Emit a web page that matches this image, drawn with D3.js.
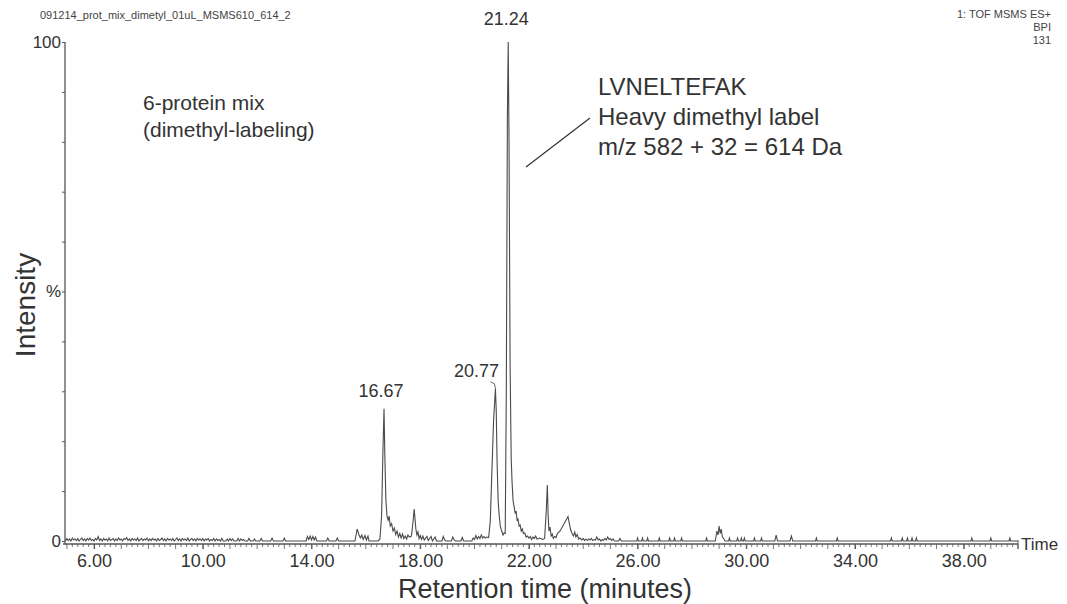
<!DOCTYPE html>
<html>
<head>
<meta charset="utf-8">
<script src="https://cdn.jsdelivr.net/npm/d3@7"></script>
<style>
  html, body { margin: 0; padding: 0; background: #fff; }
  svg { display: block; font-family: "Liberation Sans", Arial, sans-serif; }
</style>
</head>
<body>
<svg id="chart" width="1067" height="604"></svg>
<script>
// Base peak intensity chromatogram: [retention time (min), intensity (% of base peak)]
const trace = [
  [4.95,0],[5.00,0.5],[5.05,0.1],[5.10,0.4],[5.15,0],[5.20,0.6],[5.25,0.2],[5.30,0.4],[5.35,0.1],[5.40,0.5],
  [5.45,0],[5.50,0.3],[5.55,0.6],[5.60,0.1],[5.65,0.4],[5.70,0],[5.75,0.5],[5.80,0.2],[5.85,0.6],[5.90,0.1],
  [5.95,0.3],[6.00,0],[6.05,0.5],[6.10,0.2],[6.15,0.9],[6.20,0.1],[6.25,0.4],[6.30,0],[6.35,0.5],[6.40,0.2],
  [6.45,0.4],[6.50,0],[6.55,0.6],[6.60,0.1],[6.65,0.3],[6.70,0.5],[6.75,0],[6.80,0.4],[6.85,0.1],[6.90,0.6],
  [6.95,0.2],[7.00,0.4],[7.05,0],[7.10,0.5],[7.15,0.3],[7.20,0.7],[7.25,0.1],[7.30,0.4],[7.35,0],[7.40,0.5],
  [7.45,0.2],[7.50,0.4],[7.55,0.1],[7.60,0.6],[7.65,0],[7.70,0.3],[7.75,0.5],[7.80,0.1],[7.85,0.4],[7.90,0.2],
  [7.95,0.6],[8.00,0],[8.05,0.4],[8.10,0.1],[8.15,0.5],[8.20,0.2],[8.25,0.4],[8.30,0],[8.35,0.5],[8.40,0.1],
  [8.45,0.3],[8.50,0.6],[8.55,0.1],[8.60,0.4],[8.65,0],[8.70,0.5],[8.75,0.2],[8.80,0.4],[8.85,0.1],[8.90,0.5],
  [8.95,0],[9.00,0.3],[9.05,0.6],[9.10,0.1],[9.15,0.4],[9.20,0],[9.25,0.5],[9.30,0.2],[9.35,0.4],[9.40,0.1],
  [9.45,0.6],[9.50,0],[9.55,0.3],[9.60,0.5],[9.65,0.1],[9.70,0.4],[9.75,0],[9.80,0.5],[9.85,0.2],[9.90,0.4],
  [9.95,0.1],[10.00,0.5],[10.05,0],[10.10,0.4],[10.15,0.2],[10.20,0.5],[10.25,0],[10.30,0.3],[10.35,0.1],[10.40,0.5],
  [10.45,0],[10.50,0.4],[10.55,0.1],[10.60,0.3],[10.65,0],[10.70,0.5],[10.75,0],[10.85,0],[10.90,0.4],[10.95,0],
  [11.00,0.5],[11.05,0.1],[11.10,0.4],[11.15,0],[11.25,0],[11.30,0.5],[11.35,0],[11.40,0.4],[11.45,0.1],[11.50,0.3],
  [11.55,0],[11.65,0],[11.70,0.5],[11.75,0],[11.85,0],[11.90,0.4],[11.95,0],[12.10,0],[12.15,0.5],[12.20,0],
  [12.50,0],[12.55,0.6],[12.60,0],[12.95,0],[13.00,0.6],[13.05,0],[13.80,0],[13.85,0.9],[13.90,0.3],[13.95,1.0],
  [14.00,0.2],[14.05,0.9],[14.10,0.2],[14.15,0.8],[14.20,0],[14.55,0],[14.60,0.6],[14.65,0],[14.90,0],[14.95,0.6],
  [15.00,0],[15.60,0],[15.68,2.4],[15.75,1.2],[15.80,0.6],[15.85,1.2],[15.90,0.3],[15.97,1.1],[16.02,0.2],[16.08,1.0],
  [16.12,0],[16.45,0],[16.52,0.4],[16.58,5],[16.63,18],[16.67,26.5],[16.70,17],[16.74,8],[16.78,5],[16.82,4.2],
  [16.86,5],[16.90,3],[16.95,3.5],[17.00,2],[17.05,2.6],[17.10,1.3],[17.15,2],[17.20,0.8],[17.25,1.5],[17.30,0.6],
  [17.35,1.4],[17.40,0.5],[17.45,1.0],[17.50,0.4],[17.55,1.2],[17.60,0.8],[17.68,1],[17.74,4],[17.78,6.4],[17.81,4.5],
  [17.84,2.5],[17.88,1.2],[17.92,1.8],[17.96,0.5],[18.00,1.1],[18.05,0.3],[18.10,1.0],[18.15,0.2],[18.25,0.9],[18.30,0.1],
  [18.40,0.9],[18.45,0],[18.55,0.8],[18.60,0],[18.80,0],[18.85,0.9],[18.90,0.2],[18.95,0],[19.15,0],[19.20,0.8],
  [19.25,0.2],[19.30,0],[19.50,0],[19.55,0.7],[19.60,0],[19.90,0],[19.95,0.6],[20.00,0.3],[20.05,1.1],[20.10,0.4],
  [20.15,0.9],[20.20,0.5],[20.25,1.2],[20.30,0.6],[20.35,0.9],[20.40,0.6],[20.45,0.8],[20.52,0.7],[20.58,4],[20.64,14],
  [20.70,24],[20.77,30.5],[20.80,26],[20.83,16],[20.87,8],[20.91,5],[20.95,3],[21.00,2],[21.05,1.2],[21.09,1.6],
  [21.13,1.5],[21.17,30],[21.21,85],[21.24,100],[21.27,80],[21.31,35],[21.35,16.5],[21.38,12],[21.42,8],[21.46,6.8],
  [21.50,5.5],[21.53,6],[21.57,4],[21.60,4.5],[21.64,3],[21.68,3.2],[21.72,2],[21.76,2.4],[21.80,1.5],[21.85,1.6],
  [21.90,0.8],[21.95,1.0],[22.00,0.6],[22.05,0.9],[22.10,0.3],[22.15,0.8],[22.20,0.5],[22.25,1.0],[22.30,0.4],[22.40,0.6],
  [22.50,0.3],[22.58,0.5],[22.64,6],[22.68,11.2],[22.71,5],[22.74,2],[22.78,2.8],[22.82,1],[22.86,1.4],[22.90,0.5],
  [22.95,0.9],[23.00,0.7],[23.05,1.5],[23.15,2],[23.25,3],[23.35,4],[23.44,4.9],[23.49,3.5],[23.54,2.2],[23.59,1.5],
  [23.64,1.0],[23.69,1.8],[23.73,0.8],[23.78,1.3],[23.83,0.4],[23.88,0.6],[23.95,0.2],[24.00,0.5],[24.05,0.1],[24.10,0.4],
  [24.15,0.1],[24.20,0.4],[24.25,0.2],[24.30,0.5],[24.35,0.1],[24.40,0.3],[24.45,0.2],[24.50,0.8],[24.55,0.2],[24.60,0.4],
  [24.65,0],[24.70,0.3],[24.75,0.1],[24.80,0.5],[24.85,0.2],[24.90,0.8],[24.95,0.3],[25.00,0.5],[25.05,0.1],[25.10,0.4],
  [25.15,0],[25.30,0],[25.35,0.5],[25.40,0],[25.97,0],[26.00,0.6],[26.03,0],[26.15,0],[26.18,0.6],[26.21,0],
  [26.34,0],[26.37,0.6],[26.40,0],[26.77,0],[26.80,0.6],[26.83,0],[27.15,0],[27.18,0.6],[27.21,0],[27.33,0],
  [27.36,0.6],[27.39,0],[27.59,0],[27.62,0.6],[27.65,0],[28.51,0],[28.54,0.6],[28.57,0],[28.86,0],[28.92,2],
  [28.96,1.2],[29.00,3],[29.04,1.5],[29.08,2.4],[29.12,0.8],[29.17,0.5],[29.22,0],[29.35,0],[29.38,0.6],[29.41,0],
  [29.65,0],[29.68,0.6],[29.71,0],[29.79,0],[29.82,0.6],[29.85,0],[29.90,0],[29.93,0.6],[29.96,0],[30.27,0],
  [30.30,0.6],[30.33,0],[30.53,0],[30.56,0.6],[30.59,0],[31.05,0],[31.10,1.2],[31.15,0],[31.61,0],[31.66,1.0],
  [31.71,0],[32.55,0],[32.58,0.6],[32.61,0],[33.32,0],[33.35,0.6],[33.38,0],[35.31,0],[35.34,0.6],[35.37,0],
  [35.71,0],[35.74,0.6],[35.77,0],[35.90,0],[35.93,0.6],[35.96,0],[36.07,0],[36.10,0.6],[36.13,0],[36.23,0],
  [36.26,0.6],[36.29,0],[38.27,0],[38.30,0.6],[38.33,0],[38.97,0],[39.00,0.6],[39.03,0],[39.67,0],[39.70,0.6],
  [39.73,0],[40.00,0]
];

// Labelled peaks: retention time (min) and intensity (%)
const peakTimes = [16.67, 20.77, 21.24];
const peakIntensities = [26.5, 30.5, 100];

// Axis ticks
const xTickValues = [6, 10, 14, 18, 22, 26, 30, 34, 38];
const yTickValues = [0, 10, 20, 30, 40, 50, 60, 70, 80, 90, 100];
const yTickText = { 0: "0", 50: "%", 100: "100" };

// Text blocks
const headerLeft = "091214_prot_mix_dimetyl_01uL_MSMS610_614_2";
const headerRight = ["1: TOF MSMS ES+", "BPI", "131"];
const sampleNote = ["6-protein mix", "(dimethyl-labeling)"];
const peptideNote = ["LVNELTEFAK", "Heavy dimethyl label", "m/z 582 + 32 = 614 Da"];

const ink = "#333";
const axisInk = "#555";

const svg = d3.select("#chart");

const x = d3.scaleLinear().domain([4.93, 40.0]).range([65, 1018]);
const y = d3.scaleLinear().domain([0, 100]).range([541, 42]);
const axisY = 544;

// Header
svg.append("text").attr("x", 40).attr("y", 19)
  .attr("font-size", 11).attr("fill", "#444").text(headerLeft);
svg.append("g").selectAll("text").data(headerRight).join("text")
  .attr("x", 1051).attr("y", (d, i) => 18 + i * 13)
  .attr("text-anchor", "end").attr("font-size", 11).attr("fill", "#444")
  .text(d => d);

// Y axis
const yAxis = d3.axisLeft(y).tickValues(yTickValues).tickSize(3)
  .tickFormat(d => yTickText[d] || "");
const gy = svg.append("g").attr("transform", "translate(65,0)").call(yAxis);
gy.select(".domain").remove();
gy.selectAll(".tick line").attr("stroke", axisInk);
gy.selectAll(".tick text").attr("font-size", 17).attr("fill", ink)
  .attr("font-family", "Liberation Sans, Arial, sans-serif").attr("x", -4);
svg.append("line").attr("x1", 65).attr("x2", 65).attr("y1", y(100)).attr("y2", axisY)
  .attr("stroke", axisInk).attr("stroke-width", 1.3);

// X axis: minor ticks every 0.2 min, longer ones each minute
const minorTicks = d3.range(5.0, 40.01, 0.2).map(v => +v.toFixed(1));
svg.append("g").selectAll("line").data(minorTicks).join("line")
  .attr("x1", d => x(d)).attr("x2", d => x(d))
  .attr("y1", axisY).attr("y2", d => axisY + (Math.abs(d - Math.round(d)) < 1e-6 ? 5 : 3))
  .attr("stroke", axisInk).attr("stroke-width", 0.8);
const xAxis = d3.axisBottom(x).tickValues(xTickValues).tickSize(5)
  .tickFormat(d => d.toFixed(2));
const gx = svg.append("g").attr("transform", `translate(0,${axisY})`).call(xAxis);
gx.select(".domain").remove();
gx.selectAll(".tick line").attr("stroke", axisInk);
gx.selectAll(".tick text").attr("font-size", 18).attr("fill", ink)
  .attr("font-family", "Liberation Sans, Arial, sans-serif").attr("y", 10);
svg.append("line").attr("x1", 63).attr("x2", x(40)).attr("y1", axisY).attr("y2", axisY)
  .attr("stroke", axisInk).attr("stroke-width", 1.3);
svg.append("line").attr("x1", x(40)).attr("x2", x(40)).attr("y1", axisY - 4).attr("y2", axisY + 5)
  .attr("stroke", axisInk).attr("stroke-width", 1);
svg.append("text").attr("x", 1021).attr("y", axisY).attr("dy", "0.35em")
  .attr("font-size", 17).attr("fill", ink).text("Time");

// Axis titles
svg.append("text").attr("x", 545).attr("y", 598).attr("text-anchor", "middle")
  .attr("font-size", 27).attr("fill", ink).text("Retention time (minutes)");
svg.append("text").attr("transform", "translate(35,305) rotate(-90)")
  .attr("text-anchor", "middle").attr("font-size", 28).attr("fill", ink).text("Intensity");

// Chromatogram trace
const line = d3.line().x(d => x(d[0])).y(d => y(d[1]));
svg.append("path").datum(trace).attr("d", line)
  .attr("fill", "none").attr("stroke", "#4a4a4a").attr("stroke-width", 1.1)
  .attr("stroke-linejoin", "miter");

// Peak labels
const labelShift = [-3, -19, -2];
const labelRise = [12, 12, 17];
peakTimes.forEach((t, i) => {
  const px = x(t), py = y(peakIntensities[i]);
  svg.append("text").attr("x", px + labelShift[i]).attr("y", py - labelRise[i])
    .attr("text-anchor", "middle").attr("font-size", 18).attr("fill", ink)
    .text(t.toFixed(2));
});
// leader hook for the 20.77 label
{
  const px = x(peakTimes[1]), py = y(peakIntensities[1]);
  svg.append("path").attr("d", `M${px - 5},${py - 7} L${px - 1},${py - 5} L${px},${py}`)
    .attr("fill", "none").attr("stroke", "#666").attr("stroke-width", 1);
}

// Annotations
svg.append("g").selectAll("text").data(sampleNote).join("text")
  .attr("x", 143).attr("y", (d, i) => 110 + i * 27)
  .attr("font-size", 21).attr("fill", ink).text(d => d);
svg.append("g").selectAll("text").data(peptideNote).join("text")
  .attr("x", 598).attr("y", (d, i) => 95 + i * 30)
  .attr("font-size", 24).attr("fill", ink).text(d => d);
svg.append("line").attr("x1", 526).attr("y1", 167).attr("x2", 590).attr("y2", 118)
  .attr("stroke", "#333").attr("stroke-width", 1.2);
</script>
</body>
</html>
